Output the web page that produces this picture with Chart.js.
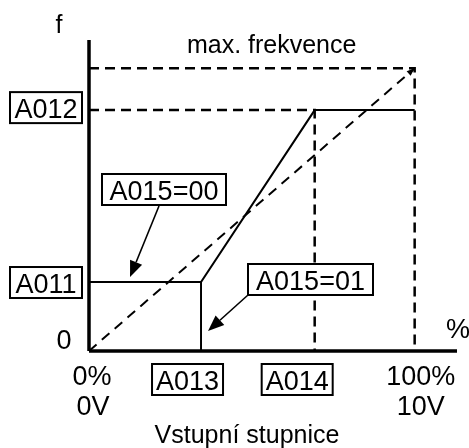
<!DOCTYPE html>
<html>
<head>
<meta charset="utf-8">
<script src="https://cdn.jsdelivr.net/npm/chart.js@4/dist/chart.umd.min.js"></script>
<style>
  html, body { margin: 0; padding: 0; background: #fff; }
  #wrap { width: 469px; height: 448px; position: relative; }
</style>
</head>
<body>
<div id="wrap"><canvas id="c" width="469" height="448"></canvas></div>
<script>
// Input signal scale (% of full range): start, A013, A014, full scale
const inputPoints = [0, 34.4, 69.3, 100];
const inputNames = ['0%', 'A013', 'A014', '100%'];
const inputVolts = ['0V', '', '', '10V'];
// Output frequency (% of max. frequency): zero, A011, A012, max
const freqPoints = [0, 24.4, 85.2, 100];
const freqNames = ['0', 'A011', 'A012', 'max. frekvence'];
// Axis extents
const axisMaxX = 113;
const axisMaxY = 110;

const [x0, xA013, xA014, x100] = inputPoints;
const [f0, fA011, fA012, fMax] = freqPoints;

const FONT = '"Liberation Sans", Arial, sans-serif';

function line(points, width, dash) {
  return {
    data: points.map(([x, y]) => ({ x, y })),
    borderColor: '#000',
    borderWidth: width,
    borderDash: dash || [],
    borderCapStyle: 'butt',
    borderJoinStyle: 'miter',
    pointRadius: 0,
    fill: false,
    tension: 0,
    clip: false
  };
}

const datasets = [
  // max. frequency reference (dashed)
  line([[x0, fMax], [x100, fMax], [x100, f0]], 2.5, [10, 6]),
  // A012 / A014 reference (dashed)
  line([[x0, fA012], [xA014, fA012], [xA014, f0]], 2.5, [10, 6]),
  // default linear characteristic (dashed)
  line([[x0, f0], [x100, fMax]], 2, [10, 7]),
  // A015=00 characteristic
  line([[x0, fA011], [xA013, fA011], [xA014, fA012], [x100, fA012]], 2),
  // A015=01: output 0 below A013
  line([[xA013, f0], [xA013, fA011]], 2),
  // axes
  line([[x0, f0], [axisMaxX, f0]], 3.5),
  line([[x0, f0], [x0, axisMaxY]], 3.5)
];

function arrow(ctx, x1, y1, x2, y2, len, half) {
  const a = Math.atan2(y2 - y1, x2 - x1);
  const bx = x2 - len * Math.cos(a), by = y2 - len * Math.sin(a);
  ctx.beginPath();
  ctx.moveTo(x1, y1);
  ctx.lineTo(bx, by);
  ctx.stroke();
  ctx.beginPath();
  ctx.moveTo(x2, y2);
  ctx.lineTo(bx + half * Math.sin(a), by - half * Math.cos(a));
  ctx.lineTo(bx - half * Math.sin(a), by + half * Math.cos(a));
  ctx.closePath();
  ctx.fill();
}

function boxedText(ctx, text, left, top, w, h) {
  ctx.fillStyle = '#fff';
  ctx.fillRect(left, top, w, h);
  ctx.lineWidth = 2;
  ctx.strokeStyle = '#000';
  ctx.strokeRect(left, top, w, h);
  ctx.fillStyle = '#000';
  ctx.textAlign = 'center';
  ctx.textBaseline = 'alphabetic';
  ctx.fillText(text, left + w / 2, top + h / 2 + 10);
}

const labelsPlugin = {
  id: 'diagramLabels',
  afterDatasetsDraw(chart) {
    const ctx = chart.ctx;
    const xs = chart.scales.x, ys = chart.scales.y;
    const px = v => xs.getPixelForValue(v);
    const py = v => ys.getPixelForValue(v);
    const big = '27px ' + FONT;
    const small = '25px ' + FONT;
    ctx.save();
    ctx.fillStyle = '#000';
    ctx.strokeStyle = '#000';
    ctx.textAlign = 'center';
    ctx.textBaseline = 'alphabetic';

    // titles
    ctx.font = small;
    ctx.fillText(freqNames[3], px(x100) - 143, py(fMax) - 15);
    ctx.fillText('Vstupní stupnice', 247, 443);
    ctx.fillText('f', px(x0) - 30, 33);

    // axis marks
    ctx.font = big;
    ctx.fillText('%', px(axisMaxX) + 1, py(f0) - 13);
    ctx.fillText(freqNames[0], px(x0) - 25, py(f0) - 2);
    ctx.fillText(inputNames[0], px(x0) + 3, 385);
    ctx.fillText(inputVolts[0], px(x0) + 4, 415);
    ctx.fillText(inputNames[3], px(x100) + 6, 385);
    ctx.fillText(inputVolts[3], px(x100) + 6, 415);
    boxedText(ctx, inputNames[1], px(xA013) - 49, 364, 71, 31);
    boxedText(ctx, inputNames[2], px(xA014) - 53, 364, 71, 31);

    // frequency labels
    boxedText(ctx, freqNames[2], 10, py(fA012) - 18, 72, 31);
    boxedText(ctx, freqNames[1], 10, py(fA011) - 15, 72, 31);

    // mode callouts
    boxedText(ctx, 'A015=00', 102, 174, 124, 31);
    boxedText(ctx, 'A015=01', 248, 264, 125, 31);
    ctx.lineWidth = 1.6;
    arrow(ctx, 159, 206, px(12.6), py(fA011) - 5, 16, 6.5);
    arrow(ctx, 248, 295, px(xA013) + 7, py(7.1), 16, 6.5);

    // arrowhead at the end of the linear characteristic
    const ax = px(x100), ay = py(fMax);
    const a = Math.atan2(py(fMax) - py(f0), px(x100) - px(x0));
    const bx = ax - 8 * Math.cos(a), by = ay - 8 * Math.sin(a);
    ctx.beginPath();
    ctx.moveTo(ax, ay);
    ctx.lineTo(bx + 3 * Math.sin(a), by - 3 * Math.cos(a));
    ctx.lineTo(bx - 3 * Math.sin(a), by + 3 * Math.cos(a));
    ctx.closePath();
    ctx.fill();
    ctx.restore();
  }
};

new Chart(document.getElementById('c'), {
  type: 'line',
  data: { datasets },
  options: {
    responsive: false,
    animation: false,
    events: [],
    layout: { padding: { left: 89, right: 12, top: 40, bottom: 97 } },
    scales: {
      x: { type: 'linear', min: 0, max: axisMaxX, display: false },
      y: { type: 'linear', min: 0, max: axisMaxY, display: false }
    },
    plugins: { legend: { display: false }, tooltip: { enabled: false } }
  },
  plugins: [labelsPlugin]
});
</script>
</body>
</html>
